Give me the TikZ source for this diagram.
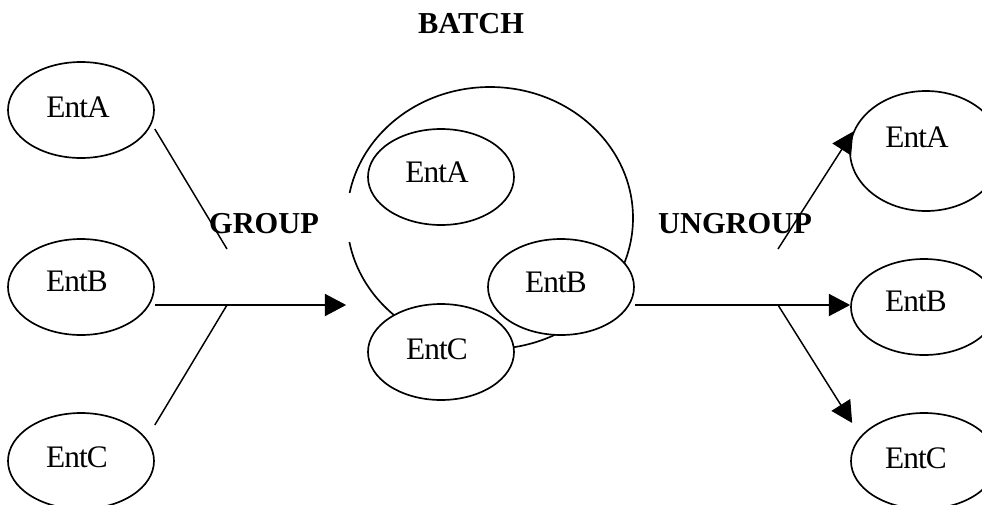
\documentclass[tikz,border=0pt]{standalone}
\usepackage{fontspec}
\setmainfont{Liberation Serif}
\newfontfamily\entfont[LetterSpace=-3]{Liberation Serif}
\usetikzlibrary{shapes.geometric,arrows.meta,calc}

\begin{document}
\begin{tikzpicture}[x=0.75pt,y=-0.75pt,
  ent/.style={ellipse,draw,line width=1.25pt,fill=white,inner sep=0pt,
    minimum width=109.5pt,minimum height=72pt},
  entbig/.style={ent,minimum width=114pt,minimum height=90pt},
  batchring/.style={ellipse,draw,line width=1.25pt,inner sep=0pt,
    minimum width=214.5pt,minimum height=196.5pt},
  enttext/.style={anchor=base,inner sep=0pt,font=\entfont\fontsize{23.5pt}{28pt}\selectfont},
  optext/.style={anchor=base,inner sep=0pt,font=\fontsize{22.8pt}{27pt}\selectfont\bfseries},
  flow/.style={line width=1.6pt},
  spoke/.style={line width=1.1pt},
  tip/.style={-{Triangle[length=16pt,width=16.5pt]}}
]
\useasboundingbox (0,0) rectangle (982,504);
\clip (0,0) rectangle (982,504);

% batch container with its three members
\node[batchring] (batch) at (490,218) {};
\node[ent] (ia) at (441,177) {};
\node[ent] (ib) at (561,287) {};
\node[ent] (ic) at (441,352) {};

% loose entities on the left
\node[ent] (la) at (81,110) {};
\node[ent] (lb) at (81,287) {};
\node[ent] (lc) at (81,461) {};

% entities after ungrouping
\node[entbig] (ra) at (926,151) {};
\node[ent] (rb) at (924,307) {};
\node[ent] (rc) at (924,461) {};

% entity names
\node[enttext] (la-t) at (78,117) {EntA};
\node[enttext] (lb-t) at (77,291) {EntB};
\node[enttext] (lc-t) at (77,467) {EntC};
\node[enttext] (ia-t) at (437,182) {EntA};
\node[enttext] (ib-t) at (556,292) {EntB};
\node[enttext] (ic-t) at (437,359) {EntC};
\node[enttext] (ra-t) at (917,147) {EntA};
\node[enttext] (rb-t) at (916,311) {EntB};
\node[enttext] (rc-t) at (916,468) {EntC};

% white label box over the ring's left side
\fill[white] (195,193) rectangle (351,242);

% operation labels (bottoms cut off by their text frames)
\begin{scope}
  \clip (400,0) rectangle (545,33);
  \node[optext] (batchlbl) at (471,33.5) {BATCH};
\end{scope}
\begin{scope}
  \clip (190,195) rectangle (340,233);
  \node[optext] (grouplbl) at (264,233.5) {GROUP};
\end{scope}
\begin{scope}
  \clip (640,195) rectangle (830,233);
  \node[optext] (ungrouplbl) at (735,233.5) {UNGROUP};
\end{scope}

% GROUP: three entities merge into the batch
\coordinate (gj) at (227,305);
\coordinate (gt) at (227,249);
\draw[spoke] ($(la.east)+(0,19)$) -- (gt);
\draw[spoke] ($(lc.east)+(0,-36)$) -- (gj);
\draw[flow,tip] ($(lb.east)+(0,18)$) -- (batch.west |- gj);

% UNGROUP: the batch splits into its entities
\coordinate (uj) at (778,305);
\coordinate (ut) at (778,249);
\draw[flow,tip] ($(ib.east)+(0,18)$) -- (rb.west |- uj);
\draw[spoke,tip] (ut) -- (ra.165);
\draw[spoke,tip] (uj) -- ($(rc.west)+(2,-38)$);
\end{tikzpicture}
\end{document}
